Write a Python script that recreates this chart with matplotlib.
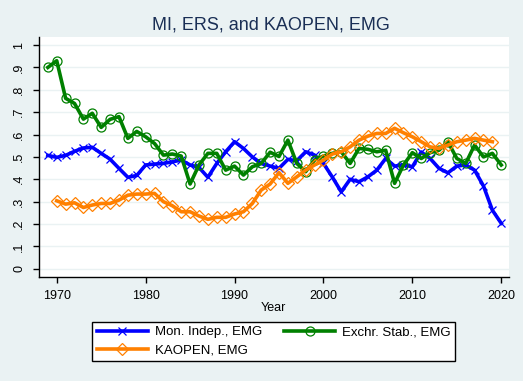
import matplotlib
matplotlib.use("Agg")
import matplotlib.pyplot as plt

plt.rcParams['font.family'] = ['Liberation Sans', 'DejaVu Sans']

years_mi = list(range(1969, 2021))
mon_indep = [0.507, 0.498, 0.507, 0.525, 0.540, 0.543, 0.516, 0.490, 0.449, 0.409,
             0.417, 0.464, 0.468, 0.471, 0.478, 0.486, 0.464, 0.453, 0.409, 0.471,
             0.523, 0.568, 0.538, 0.500, 0.471, 0.459, 0.449, 0.489, 0.483, 0.523,
             0.508, 0.471, 0.410, 0.344, 0.400, 0.389, 0.411, 0.441, 0.493, 0.459,
             0.464, 0.456, 0.522, 0.493, 0.449, 0.429, 0.459, 0.464, 0.441, 0.370,
             0.262, 0.203]

years_ers = list(range(1969, 2021))
exchr_stab = [0.900, 0.930, 0.762, 0.739, 0.669, 0.695, 0.632, 0.668, 0.680, 0.583,
              0.614, 0.590, 0.560, 0.508, 0.513, 0.504, 0.379, 0.464, 0.516, 0.516,
              0.441, 0.459, 0.419, 0.456, 0.471, 0.521, 0.502, 0.575, 0.471, 0.434,
              0.486, 0.504, 0.516, 0.523, 0.471, 0.538, 0.534, 0.523, 0.530, 0.382,
              0.464, 0.519, 0.493, 0.519, 0.530, 0.568, 0.493, 0.471, 0.553, 0.500,
              0.516, 0.464]

years_ka = list(range(1970, 2020))
kaopen = [0.304, 0.289, 0.295, 0.274, 0.285, 0.292, 0.292, 0.307, 0.329, 0.334,
          0.334, 0.337, 0.300, 0.282, 0.255, 0.255, 0.236, 0.221, 0.230, 0.230,
          0.245, 0.255, 0.292, 0.352, 0.379, 0.430, 0.382, 0.411, 0.441, 0.464,
          0.486, 0.513, 0.523, 0.545, 0.575, 0.593, 0.605, 0.605, 0.628, 0.608,
          0.590, 0.568, 0.545, 0.538, 0.553, 0.568, 0.575, 0.583, 0.575, 0.568]

xticks = [1970, 1980, 1990, 2000, 2010, 2020]
yticks = [0, 0.1, 0.2, 0.3, 0.4, 0.5, 0.6, 0.7, 0.8, 0.9, 1.0]
ytick_labels = ["0", ".1", ".2", ".3", ".4", ".5", ".6", ".7", ".8", ".9", "1"]

BG = '#EAF2F3'
W, H = 523, 381
fig = plt.figure(figsize=(W / 100, H / 100), dpi=100, facecolor=BG)
ax = fig.add_axes([38.5 / W, 1 - 277.3 / H, (509 - 38.5) / W, (277.3 - 37) / H])
ax.set_facecolor('white')

l1, = ax.plot(years_mi, mon_indep, color='#0000FF', lw=2.6, marker='x',
              markersize=5.5, markeredgewidth=0.9, label='Mon. Indep., EMG', zorder=3)
l2, = ax.plot(years_ers, exchr_stab, color='#008000', lw=2.6, marker='o',
              markersize=6.5, markerfacecolor='none', markeredgewidth=0.9,
              label='Exchr. Stab., EMG', zorder=3)
l3, = ax.plot(years_ka, kaopen, color='#FF8000', lw=2.6, marker='D',
              markersize=6, markerfacecolor='none', markeredgewidth=0.9,
              label='KAOPEN, EMG', zorder=3)

ax.set_xlim(1967.95, 2020.87)
ax.set_ylim(-0.038, 1.036)
ax.set_xticks(xticks)
ax.set_yticks(yticks)
ax.set_yticklabels(ytick_labels, rotation=90, va='center')
ax.grid(axis='y', color=BG, lw=1.0, zorder=0)
ax.grid(axis='x', visible=False)
for s in ['top', 'right']:
    ax.spines[s].set_visible(False)
for s in ['left', 'bottom']:
    ax.spines[s].set_color('black')
    ax.spines[s].set_linewidth(1.0)
ax.tick_params(axis='both', length=4, width=1, colors='black', labelsize=9)
ax.tick_params(axis='x', pad=5.5)
ax.tick_params(axis='y', pad=5.5)
ax.set_xlabel('Year', fontsize=9, labelpad=0)

fig.text(270.7 / W, 1 - 30 / H, 'MI, ERS, and KAOPEN, EMG', ha='center',
         va='baseline', fontsize=13, color='#1A2F55')

leg = fig.legend(handles=[l1, l3, l2], ncol=2, loc='center',
                 bbox_to_anchor=(273.7 / W, 1 - 341.3 / H), fontsize=9.5,
                 frameon=True, fancybox=False, edgecolor='black', framealpha=1,
                 handlelength=3.86, numpoints=1, columnspacing=1.7,
                 handletextpad=0.53, borderpad=0.32, labelspacing=0.47)
leg.get_frame().set_linewidth(1.0)

fig.savefig('out.png', dpi=100, facecolor=BG)
